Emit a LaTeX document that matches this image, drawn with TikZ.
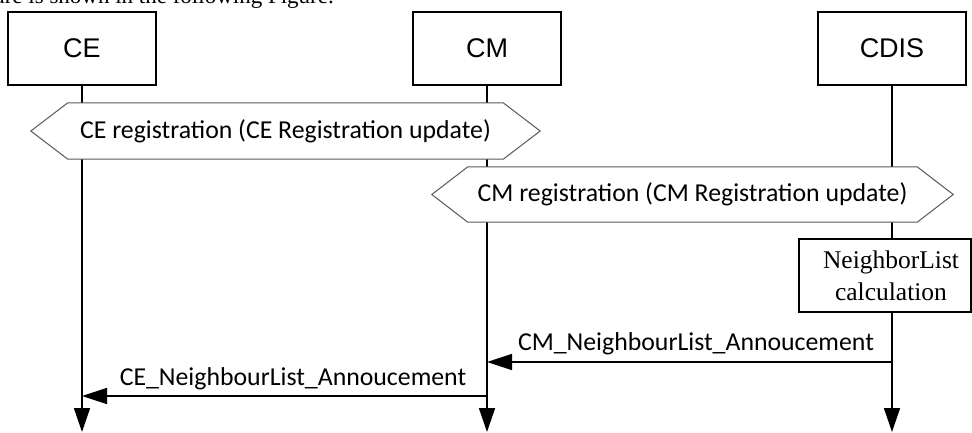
\documentclass[tikz,border=0pt]{standalone}
\usepackage{fontspec}
\setmainfont{Liberation Serif}
\newfontfamily\calfont{Carlito}
\newfontfamily\arialfont{Liberation Sans}
\usetikzlibrary{arrows.meta}
\begin{document}
\begin{tikzpicture}[x=1pt,y=-1pt,
  actor/.style={draw, line width=1.3pt, minimum width=148pt, minimum height=73pt,
    inner sep=0pt, font=\arialfont\fontsize{27}{32}\selectfont},
  life/.style={line width=1.5pt, -{Triangle[length=24pt,width=16pt]}},
  msg/.style={line width=1.5pt, -{Triangle[length=25pt,width=16pt]}},
  hexcore/.style={minimum height=56pt, inner sep=0pt},
  hexline/.style={draw=black!65, line width=1pt, fill=white},
  cal/.style={font=\calfont\fontsize{25.8}{30}\selectfont, inner sep=0pt},
  calcbox/.style={draw, line width=1.3pt, fill=white, minimum width=172pt,
    minimum height=73pt, inner sep=0pt},
  serif/.style={font=\fontsize{25.5}{32}\selectfont, align=center, inner sep=0pt}
]
\useasboundingbox (0,0) rectangle (972,432);
\clip (0,0) rectangle (972,432);

% running text of the page above the chart
\node[serif, font=\fontsize{23}{28}\selectfont, anchor=base east] (intro) at (334,3)
  {ure is shown in the following Figure.};

% entities
\node[actor] (ce)   at (82,48.5)  {CE};
\node[actor] (cm)   at (487,48.5) {CM};
\node[actor] (cdis) at (892,48.5) {CDIS};

% lifelines
\coordinate (ceend)   at (82,432);
\coordinate (cmend)   at (487,432);
\coordinate (cdisend) at (892,432);
\draw[life] (ce.south)   -- (ceend);
\draw[life] (cm.south)   -- (cmend);
\draw[life] (cdis.south) -- (cdisend);

% CE registration procedure
\node[hexcore, minimum width=435pt] (reg1) at (285.5,131) {};
\filldraw[hexline] (reg1.north west) -- (reg1.north east) -- ([xshift=37pt]reg1.east)
  -- (reg1.south east) -- (reg1.south west) -- ([xshift=-37pt]reg1.west) -- cycle;
\node[cal] (reg1t) at (reg1) {CE registration (CE Registration update)};

% CM registration procedure
\node[hexcore, minimum width=449pt, minimum height=55pt] (reg2) at (692.5,194.5) {};
\filldraw[hexline] (reg2.north west) -- (reg2.north east) -- ([xshift=36pt]reg2.east)
  -- (reg2.south east) -- (reg2.south west) -- ([xshift=-36pt]reg2.west) -- cycle;
\node[cal] (reg2t) at (reg2) {CM registration (CM Registration update)};

% local action at CDIS
\node[calcbox] (nl) at (885,275.5) {};
\node[serif] (nlt) at ([xshift=6pt]nl.center) {NeighborList\\calculation};

% announcements
\draw[msg] (cdis.south |- 0,362) -- (cm.south |- 0,362);
\node[cal, anchor=base] (m1l) at (696,350) {CM\_NeighbourList\_Annoucement};
\draw[msg] (cm.south |- 0,396) -- (ce.south |- 0,396);
\node[cal, anchor=base] (m2l) at (293,385) {CE\_NeighbourList\_Annoucement};
\end{tikzpicture}
\end{document}
